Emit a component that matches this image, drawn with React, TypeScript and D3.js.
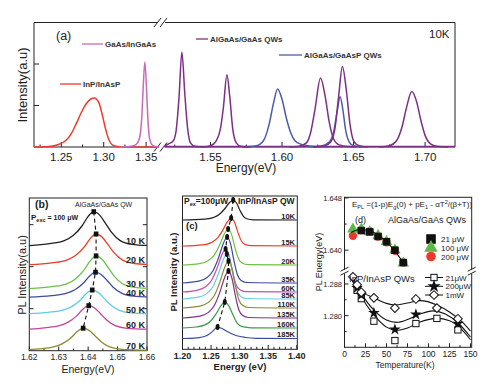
import React from "react";
import * as d3 from "d3";

type Pt = [number, number];

const FONT = "Liberation Sans, Arial, Helvetica, sans-serif";

// ---------- (a) PL spectra at 10K, energy (eV) vs intensity (a.u.)
const inpSpec: Pt[] = [[1.2178, 0], [1.235, 0.01], [1.245, 0.05], [1.255, 0.15], [1.262, 0.33], [1.268, 0.58], [1.274, 0.85], [1.28, 1.06], [1.2888, 1.18], [1.294, 1.08], [1.298, 0.8], [1.302, 0.45], [1.306, 0.18], [1.31, 0.05], [1.316, 0.01], [1.325, 0], [1.3652, 0]];
const gaasSpec: Pt[] = [[1.318, 0], [1.332, 0.02], [1.338, 0.06], [1.342, 0.2], [1.345, 0.75], [1.3465, 1.4], [1.3485, 2.05], [1.3505, 1.4], [1.352, 0.7], [1.354, 0.22], [1.357, 0.05], [1.361, 0.01], [1.3652, 0]];
const algaasP1: Pt[] = [[1.5175, 0.02], [1.521, 0.08], [1.524, 0.15], [1.526, 0.4], [1.528, 1.2], [1.53, 2.29], [1.532, 1.3], [1.534, 0.45], [1.536, 0.1], [1.539, 0.02], [1.545, 0]];
const algaasP2: Pt[] = [[1.545, 0], [1.55, 0.03], [1.554, 0.15], [1.557, 0.45], [1.559, 0.95], [1.5615, 1.74], [1.5635, 1.2], [1.5655, 0.45], [1.568, 0.1], [1.571, 0.02], [1.578, 0]];
const algaasP3: Pt[] = [[1.605, 0], [1.612, 0.02], [1.617, 0.1], [1.62, 0.35], [1.623, 0.9], [1.6269, 1.66], [1.63, 1.25], [1.633, 0.6], [1.636, 0.2], [1.64, 0.05], [1.646, 0.01], [1.652, 0]];
const algaasP4: Pt[] = [[1.622, 0], [1.63, 0.03], [1.634, 0.12], [1.637, 0.45], [1.6395, 1.2], [1.6422, 1.94], [1.645, 1.35], [1.6475, 0.55], [1.65, 0.15], [1.654, 0.03], [1.66, 0]];
const algaasP5: Pt[] = [[1.668, 0], [1.675, 0.03], [1.68, 0.15], [1.684, 0.5], [1.687, 0.95], [1.6907, 1.34], [1.694, 1.1], [1.697, 0.65], [1.7, 0.28], [1.704, 0.07], [1.709, 0.01], [1.716, 0]];
const gaaspB1: Pt[] = [[1.572, 0], [1.582, 0.03], [1.587, 0.15], [1.591, 0.55], [1.594, 1.05], [1.5969, 1.4], [1.6, 1.15], [1.603, 0.7], [1.606, 0.35], [1.609, 0.15], [1.613, 0.07], [1.618, 0.03], [1.625, 0.01], [1.632, 0]];
const gaaspB2: Pt[] = [[1.62, 0], [1.628, 0.03], [1.633, 0.12], [1.636, 0.35], [1.6385, 0.85], [1.6406, 1.21], [1.6425, 0.9], [1.6445, 0.4], [1.647, 0.12], [1.65, 0.03], [1.656, 0]];
const aTicksLeft = [1.25, 1.3, 1.35];
const aTicksRight = [1.55, 1.6, 1.65, 1.7];
const aMinorLeft = [1.225, 1.275, 1.325];
const aMinorRight = [1.525, 1.575, 1.625, 1.675];
const aYTicks = [1, 2];

// ---------- (b) AlGaAs/GaAs QW vs temperature (stacked)
const bLabels = ["10 K", "20 K", "30 K", "40 K", "50 K", "60 K", "70 K"];
const bSpectra: Pt[][] = [
  [[1.62, 105], [1.6269, 107.0], [1.6319, 110.1], [1.6349, 115.2], [1.6379, 124.7], [1.6399, 133.9], [1.6419, 139], [1.6439, 135.6], [1.6459, 127.4], [1.6479, 118.6], [1.6509, 110.1], [1.6549, 106.4], [1.66, 105.3]],
  [[1.62, 86], [1.6277, 87.8], [1.6327, 90.6], [1.6357, 95.2], [1.6387, 103.8], [1.6407, 112.1], [1.6427, 116.7], [1.6447, 113.6], [1.6467, 106.3], [1.6487, 98.3], [1.6517, 90.6], [1.6557, 87.2], [1.66, 86.3]],
  [[1.62, 62], [1.6277, 64.0], [1.6327, 66.9], [1.6357, 71.8], [1.6387, 81.0], [1.6407, 89.8], [1.6427, 94.7], [1.6447, 91.4], [1.6467, 83.6], [1.6487, 75.1], [1.6517, 66.9], [1.6557, 63.3], [1.66, 62.3]],
  [[1.62, 53.5], [1.6275, 55.0], [1.6325, 57.3], [1.6355, 61.0], [1.6385, 68.0], [1.6405, 74.8], [1.6425, 78.5], [1.6445, 76.0], [1.6465, 70.0], [1.6485, 63.5], [1.6515, 57.3], [1.6555, 54.5], [1.66, 53.8]],
  [[1.62, 37], [1.6264, 38.4], [1.6314, 40.6], [1.6344, 44.1], [1.6374, 50.7], [1.6394, 57.1], [1.6414, 60.7], [1.6434, 58.3], [1.6454, 52.6], [1.6474, 46.5], [1.6504, 40.6], [1.6544, 37.9], [1.66, 37.2]],
  [[1.62, 21.5], [1.6252, 22.9], [1.6302, 25.0], [1.6332, 28.6], [1.6362, 35.1], [1.6382, 41.5], [1.6402, 45], [1.6422, 42.7], [1.6442, 37.0], [1.6462, 30.9], [1.6492, 25.0], [1.6532, 22.4], [1.66, 21.6]],
  [[1.62, 1.0], [1.6233, 1.8], [1.6283, 3.8], [1.6313, 7.1], [1.6343, 13.3], [1.6363, 19.2], [1.6383, 22.5], [1.6403, 20.3], [1.6423, 15.0], [1.6443, 9.3], [1.6473, 3.8], [1.6513, 1.4], [1.66, 0.6]],
];
const bPeaks: Pt[] = [[1.6419, 139], [1.6427, 116.7], [1.6427, 94.7], [1.6425, 78.5], [1.6414, 60.7], [1.6402, 45], [1.6383, 22.5]];
const bColors = ["#231f20", "#ee3b24", "#6cc04a", "#3c4ba0", "#5fcbe8", "#c2449b", "#8d8a36"];
const bTicks = [1.62, 1.63, 1.64, 1.65, 1.66];
const bMinor = [1.625, 1.635, 1.645, 1.655];
const bYTicks = [42, 84, 126];

// ---------- (c) InP/InAsP QW vs temperature (stacked)
const cLabels = ["10K", "15K", "20K", "35K", "60K", "85K", "110K", "135K", "160K", "185K"];
const cSpectra: Pt[][] = [
  [[1.2, 129.3], [1.2386, 130.1], [1.2536, 131.7], [1.2636, 134.5], [1.2736, 140.3], [1.2816, 146.3], [1.2886, 149.3], [1.2946, 146.3], [1.3006, 138.9], [1.3066, 132.9], [1.3136, 130.3], [1.3236, 129.5], [1.4, 129.3]],
  [[1.2, 103.3], [1.2351, 104.4], [1.2501, 106.7], [1.2601, 110.6], [1.2701, 118.7], [1.2781, 127.1], [1.2851, 131.3], [1.2911, 127.1], [1.2971, 116.7], [1.3031, 108.3], [1.3101, 104.7], [1.3201, 103.6], [1.4, 103.3]],
  [[1.2, 84.3], [1.2298, 85.7], [1.2448, 88.6], [1.2548, 93.7], [1.2648, 104.1], [1.2728, 114.9], [1.2798, 120.3], [1.2858, 114.9], [1.2918, 101.6], [1.2978, 90.8], [1.3048, 86.1], [1.3148, 84.7], [1.4, 84.3]],
  [[1.2, 66.3], [1.2281, 68.1], [1.2431, 71.8], [1.2531, 78.3], [1.2631, 91.6], [1.2711, 105.4], [1.2781, 112.3], [1.2841, 105.4], [1.2901, 88.4], [1.2961, 74.6], [1.3031, 68.6], [1.3131, 66.8], [1.4, 66.3]],
  [[1.2, 57.3], [1.2254, 59.0], [1.2404, 62.5], [1.2504, 68.5], [1.2604, 81.0], [1.2684, 93.9], [1.2754, 100.3], [1.2814, 93.9], [1.2874, 77.9], [1.2934, 65.0], [1.3004, 59.5], [1.3104, 57.7], [1.4, 57.3]],
  [[1.2, 50.3], [1.2275, 52.1], [1.2425, 55.7], [1.2525, 62.0], [1.2625, 75.1], [1.2705, 88.6], [1.2775, 95.3], [1.2835, 88.6], [1.2895, 71.9], [1.2955, 58.4], [1.3025, 52.6], [1.3125, 50.8], [1.4, 50.3]],
  [[1.2, 41.3], [1.2304, 43.2], [1.2454, 46.9], [1.2554, 53.5], [1.2654, 67.2], [1.2734, 81.3], [1.2804, 88.3], [1.2864, 81.3], [1.2924, 63.9], [1.2984, 49.8], [1.3054, 43.7], [1.3154, 41.8], [1.4, 41.3]],
  [[1.2, 31.3], [1.2304, 33.2], [1.2454, 36.9], [1.2554, 43.5], [1.2654, 57.2], [1.2734, 71.3], [1.2804, 78.3], [1.2864, 71.3], [1.2924, 53.9], [1.2984, 39.8], [1.3054, 33.7], [1.3154, 31.8], [1.4, 31.3]],
  [[1.2, 21.3], [1.224, 22.3], [1.239, 24.4], [1.249, 28.1], [1.259, 35.6], [1.267, 43.4], [1.274, 47.3], [1.281, 43.4], [1.288, 34.8], [1.296, 26.0], [1.305, 22.6], [1.32, 21.5], [1.4, 21.3]],
  [[1.2, 10.8], [1.22, 11.2], [1.235, 12.3], [1.245, 14.5], [1.253, 18.2], [1.258, 21.0], [1.2614, 22.3], [1.267, 21.3], [1.275, 18.8], [1.285, 15.8], [1.295, 13.5], [1.31, 11.8], [1.33, 11.0], [1.4, 10.8]],
];
const cPeaks: Pt[] = [[1.2886, 149.3], [1.2851, 131.3], [1.2798, 120.3], [1.2781, 112.3], [1.2754, 100.3], [1.2775, 95.3], [1.2804, 88.3], [1.2804, 78.3], [1.274, 47.3], [1.2614, 22.3]];
const cColors = ["#231f20", "#ee3b24", "#72bf44", "#3c4ba0", "#c54fa9", "#6ccbe8", "#8d8a36", "#86308d", "#3d9a45", "#3c4ba0"];
const cTicks = [1.2, 1.25, 1.3, 1.35, 1.4];
const cMinor = [1.21, 1.22, 1.23, 1.24, 1.26, 1.27, 1.28, 1.29, 1.31, 1.32, 1.33, 1.34, 1.36, 1.37, 1.38, 1.39];

// ---------- (d) peak energy vs temperature
const upT21 = [20, 30, 40, 50, 60, 70];
const upE21 = [1.643, 1.6428, 1.6421, 1.6413, 1.64, 1.6381];
const upT100 = [10, 20, 30, 40, 50, 60, 70];
const upE100 = [1.6432, 1.6432, 1.6428, 1.6422, 1.6413, 1.64, 1.638];
const upT200 = [10, 20, 30, 40, 50, 60, 70];
const upE200 = [1.6422, 1.6431, 1.6429, 1.6421, 1.6412, 1.6399, 1.6381];
const upFitT = [8, 15, 25, 35, 45, 55, 65, 72];
const upFitE = [1.6427, 1.6431, 1.6431, 1.6427, 1.6418, 1.6406, 1.639, 1.6376];

const loT21 = [15, 20, 35, 60, 85, 110, 135];
const loE21 = [1.2864, 1.2843, 1.2786, 1.2737, 1.278, 1.2793, 1.2764];
const loT200 = [15, 20, 35, 60, 85, 135];
const loE200 = [1.287, 1.2852, 1.2807, 1.2765, 1.2803, 1.278];
const loT1m = [10, 15, 20, 35, 60, 85, 110, 135];
const loE1m = [1.2898, 1.2878, 1.2859, 1.2845, 1.2819, 1.2842, 1.2819, 1.2792];
const fitT1m = [8, 20, 35, 50, 60, 75, 90, 110, 125, 140, 150];
const fitE1m = [1.2903, 1.2862, 1.2845, 1.2831, 1.2827, 1.2832, 1.2838, 1.2827, 1.2809, 1.2784, 1.2761];
const fitT200 = [8, 20, 35, 50, 62, 75, 90, 105, 120, 135, 150];
const fitE200 = [1.2898, 1.2855, 1.2814, 1.2789, 1.2783, 1.279, 1.2804, 1.2812, 1.2804, 1.2782, 1.2746];
const fitT21 = [8, 20, 35, 50, 62, 75, 90, 110, 125, 140, 150];
const fitE21 = [1.2893, 1.2847, 1.2802, 1.2771, 1.2763, 1.2769, 1.2784, 1.2793, 1.2787, 1.2764, 1.2739];
const dXTicks = [0, 25, 50, 75, 100, 125, 150];
const dXMinor = [12.5, 37.5, 62.5, 87.5, 112.5, 137.5];
const dUpTicks = [1.648, 1.64];
const dLoTicks = [1.288, 1.28];
const dUpMinor = [1.644];
const dLoMinor = [1.284, 1.276];

const zip = (a: number[], b: number[]): Pt[] => a.map((v, i) => [v, b[i]]);

function PanelA() {
  const xL = d3.scaleLinear().domain([1.2178, 1.3652]).range([34, 159]);
  const xR = d3.scaleLinear().domain([1.5175, 1.7209]).range([164, 455]);
  const y = d3.scaleLinear().domain([0, 3]).range([147, 22.5]);
  const path = (pts: Pt[], x: d3.ScaleLinear<number, number>) =>
    d3.line<Pt>().x(d => x(d[0])).y(d => y(d[1])).curve(d3.curveMonotoneX)(pts) || "";
  const purple = "#7d2f86";
  const blue = "#4d5bab";
  const y0 = y(0);
  return (
    <g fontFamily={FONT}>
      {/* frame */}
      <line x1={34} x2={34} y1={22.5} y2={147} stroke="#222" />
      <line x1={455} x2={455} y1={22.5} y2={147} stroke="#222" />
      <line x1={34} x2={157} y1={22.5} y2={22.5} stroke="#222" />
      <line x1={165} x2={455} y1={22.5} y2={22.5} stroke="#222" />
      <line x1={34} x2={157} y1={147} y2={147} stroke="#222" />
      <line x1={165} x2={455} y1={147} y2={147} stroke="#222" />
      {[22.5, 147].map(yy => (
        <g key={yy} stroke="#222" strokeWidth={1}>
          <line x1={154} x2={161} y1={yy + 4.5} y2={yy - 4.5} />
          <line x1={160} x2={167} y1={yy + 4.5} y2={yy - 4.5} />
        </g>
      ))}
      {/* ticks */}
      {aTicksLeft.map(t => <line key={t} x1={xL(t)} x2={xL(t)} y1={147} y2={142} stroke="#222" />)}
      {aMinorLeft.map(t => <line key={t} x1={xL(t)} x2={xL(t)} y1={147} y2={144.5} stroke="#222" />)}
      {aTicksRight.map(t => <line key={t} x1={xR(t)} x2={xR(t)} y1={147} y2={142} stroke="#222" />)}
      {aMinorRight.map(t => <line key={t} x1={xR(t)} x2={xR(t)} y1={147} y2={144.5} stroke="#222" />)}
      {aYTicks.map(t => <line key={t} x1={34} x2={39} y1={y(t)} y2={y(t)} stroke="#222" />)}
      {aTicksLeft.map(t => (
        <text key={t} x={xL(t)} y={161} fontSize={11.5} textAnchor="middle" fill="#222">{t.toFixed(2)}</text>
      ))}
      {aTicksRight.map(t => (
        <text key={t} x={xR(t)} y={161} fontSize={11.5} textAnchor="middle" fill="#222">{t.toFixed(2)}</text>
      ))}
      <text x={246} y={172} fontSize={12} textAnchor="middle" fill="#222">Energy(eV)</text>
      <text transform="translate(27,85) rotate(-90)" fontSize={13} textAnchor="middle" fill="#222">Intensity(a.u)</text>
      {/* spectra */}
      <path d={path(inpSpec, xL)} fill="none" stroke="#ee3a2c" strokeWidth={1.5} />
      <path d={path(gaasSpec, xL)} fill="none" stroke="#c86bbd" strokeWidth={1.5} />
      <line x1={164} x2={455} y1={y0 - 0.5} y2={y0 - 0.5} stroke={purple} strokeWidth={1.5} />
      {[gaaspB1, gaaspB2].map((s, i) => (
        <path key={i} d={path(s, xR)} fill="none" stroke={blue} strokeWidth={1.5} />
      ))}
      {[algaasP1, algaasP2, algaasP3, algaasP4, algaasP5].map((s, i) => (
        <path key={i} d={path(s, xR)} fill="none" stroke={purple} strokeWidth={1.5} />
      ))}
      {/* labels / legend */}
      <text x={56} y={40} fontSize={12.5} fill="#222">(a)</text>
      <text x={429} y={38} fontSize={11.5} fill="#222">10K</text>
      <g fontSize={8} fontWeight="bold" fill="#333">
        <line x1={60} x2={81} y1={84} y2={84} stroke="#ee3a2c" strokeWidth={1.3} />
        <text x={83} y={87}>InP/InAsP</text>
        <line x1={82} x2={103} y1={44} y2={44} stroke="#c86bbd" strokeWidth={1.3} />
        <text x={105} y={47}>GaAs/InGaAs</text>
        <line x1={196} x2={208} y1={39} y2={39} stroke={purple} strokeWidth={1.3} />
        <text x={210} y={42}>AlGaAs/GaAs QWs</text>
        <line x1={279} x2={302} y1={55} y2={55} stroke={blue} strokeWidth={1.3} />
        <text x={304} y={58}>AlGaAs/GaAsP QWs</text>
      </g>
    </g>
  );
}

function PanelB() {
  const x = d3.scaleLinear().domain([1.62, 1.66]).range([29.3, 147]);
  const y = d3.scaleLinear().domain([0, 152.7]).range([350.7, 198]);
  const line = d3.line<Pt>().x(d => x(d[0])).y(d => y(d[1])).curve(d3.curveMonotoneX);
  const straight = d3.line<Pt>().x(d => x(d[0])).y(d => y(d[1]));
  return (
    <g fontFamily={FONT}>
      <rect x={29.3} y={198} width={117.7} height={152.7} fill="none" stroke="#222" />
      {bTicks.map(t => <line key={t} x1={x(t)} x2={x(t)} y1={350.7} y2={346.5} stroke="#222" />)}
      {bMinor.map(t => <line key={t} x1={x(t)} x2={x(t)} y1={350.7} y2={348.5} stroke="#222" />)}
      {bYTicks.map(t => <line key={t} x1={29.3} x2={33.5} y1={y(t)} y2={y(t)} stroke="#222" />)}
      {bYTicks.map(t => <line key={t} x1={147} x2={142.8} y1={y(t)} y2={y(t)} stroke="#222" />)}
      {bSpectra.map((s, i) => (
        <path key={i} d={line(s) || ""} fill="none" stroke={bColors[i]} strokeWidth={1.3} />
      ))}
      <path d={straight(bPeaks) || ""} fill="none" stroke="#111" strokeWidth={1.1} strokeDasharray="4,3" />
      {bPeaks.map((p, i) => (
        <rect key={i} x={x(p[0]) - 2.3} y={y(p[1]) - 2.5} width={4.6} height={5} fill="#111" />
      ))}
      {bSpectra.map((s, i) => (
        <text key={i} x={145} y={y(s[s.length - 1][1]) - 1} fontSize={9} fontWeight="bold" textAnchor="end" fill="#222">{bLabels[i]}</text>
      ))}
      {bTicks.map(t => (
        <text key={t} x={x(t)} y={360} fontSize={8.5} textAnchor="middle" fill="#222">{t.toFixed(2)}</text>
      ))}
      <text x={88} y={373} fontSize={10.5} textAnchor="middle" fill="#222">Energy(eV)</text>
      <text transform="translate(26,275) rotate(-90)" fontSize={11} textAnchor="middle" fill="#222">PL Intensity(a.u)</text>
      <text x={35} y={208} fontSize={10.5} fontWeight="bold" fill="#222">(b)</text>
      <text x={75} y={206.5} fontSize={7} fill="#222">AlGaAs/GaAs QW</text>
      <text x={31} y={219.5} fontSize={8} fontWeight="bold" fill="#222">
        P<tspan fontSize={5.5} dy={2}>exc</tspan><tspan dy={-2} fontSize={7}> = 100 μW</tspan>
      </text>
    </g>
  );
}

function PanelC() {
  const x = d3.scaleLinear().domain([1.2, 1.4]).range([182.5, 296.8]);
  const y = d3.scaleLinear().domain([0, 153.3]).range([349.3, 196]);
  const line = d3.line<Pt>().x(d => x(d[0])).y(d => y(d[1])).curve(d3.curveMonotoneX);
  const straight = d3.line<Pt>().x(d => x(d[0])).y(d => y(d[1]));
  return (
    <g fontFamily={FONT}>
      <rect x={182.5} y={196} width={114.8} height={153.3} fill="none" stroke="#222" />
      {cTicks.map(t => <line key={t} x1={x(t)} x2={x(t)} y1={349.3} y2={345} stroke="#222" />)}
      {cMinor.map(t => <line key={t} x1={x(t)} x2={x(t)} y1={349.3} y2={346.8} stroke="#222" />)}
      {cSpectra.map((s, i) => (
        <path key={i} d={line(s) || ""} fill="none" stroke={cColors[i]} strokeWidth={1.2} />
      ))}
      <path d={straight(cPeaks) || ""} fill="none" stroke="#111" strokeWidth={1.1} strokeDasharray="4,3" />
      {cPeaks.map((p, i) => (
        <ellipse key={i} cx={x(p[0])} cy={y(p[1])} rx={2} ry={3} fill="#111" />
      ))}
      {cSpectra.map((s, i) => (
        <text key={i} x={295} y={y(s[s.length - 1][1]) - 1.5} fontSize={7.5} fontWeight="bold" textAnchor="end" fill="#222">{cLabels[i]}</text>
      ))}
      {cTicks.map(t => (
        <text key={t} x={x(t)} y={358.5} fontSize={9} fontWeight="bold" textAnchor="middle" fill="#222">{t.toFixed(2)}</text>
      ))}
      <text x={240} y={370} fontSize={9.5} fontWeight="bold" textAnchor="middle" fill="#222">Energy (eV)</text>
      <text transform="translate(176.5,272) rotate(-90)" fontSize={9.5} fontWeight="bold" textAnchor="middle" fill="#222">PL Intensity (a.u.)</text>
      <text x={184} y={203.5} fontSize={8.5} fontWeight="bold" fill="#222">
        P<tspan fontSize={5.5} dy={2}>ex</tspan><tspan dy={-2}>=100μW</tspan>
      </text>
      <text x={238} y={203.5} fontSize={8.5} fontWeight="bold" fill="#222">InP/InAsP QW</text>
      <text x={186} y={229} fontSize={9.5} fontWeight="bold" fill="#222">(c)</text>
    </g>
  );
}

function PanelD() {
  const L = 344.5, R = 471.7, T = 197.3, B = 347.3, BR = 271.7;
  const x = d3.scaleLinear().domain([0, 150]).range([L, 470.5]);
  const yU = d3.scaleLinear().domain([1.6367, 1.6481]).range([BR, T]);
  const yL = d3.scaleLinear().domain([1.272, 1.2911]).range([B, BR]);
  const fitU = d3.line<Pt>().x(d => x(d[0])).y(d => yU(d[1])).curve(d3.curveMonotoneX);
  const fitL = d3.line<Pt>().x(d => x(d[0])).y(d => yL(d[1])).curve(d3.curveMonotoneX);
  const star = d3.symbol().type(d3.symbolStar).size(42)() || "";
  const starLeg = d3.symbol().type(d3.symbolStar).size(55)() || "";
  const tri = d3.symbol().type(d3.symbolTriangle).size(58)() || "";
  const triLeg = d3.symbol().type(d3.symbolTriangle).size(80)() || "";
  const sq = (cx: number, cy: number, s: number, fill: string, k: string | number) => (
    <rect key={k} x={cx - s / 2} y={cy - s / 2} width={s} height={s} fill={fill} stroke="#111" strokeWidth={1} />
  );
  const dia = (cx: number, cy: number, k: string | number) => (
    <rect key={k} x={-3.1} y={-3.1} width={6.2} height={6.2} fill="#fff" stroke="#111" strokeWidth={1}
      transform={`translate(${cx},${cy}) rotate(45)`} />
  );
  return (
    <g fontFamily={FONT}>
      <defs>
        <clipPath id="dclip"><rect x={L} y={BR + 2} width={R - L} height={B - BR - 2} /></clipPath>
      </defs>
      <rect x={L} y={T} width={R - L} height={B - T} fill="none" stroke="#222" />
      {/* axis breaks */}
      {[L, R].map(xx => (
        <g key={xx}>
          <rect x={xx - 2} y={BR - 2} width={4} height={4} fill="#fff" />
          <line x1={xx - 4} x2={xx + 4} y1={BR - 0.5} y2={BR - 4.5} stroke="#222" />
          <line x1={xx - 4} x2={xx + 4} y1={BR + 3.5} y2={BR - 0.5} stroke="#222" />
        </g>
      ))}
      {dXTicks.map(t => <line key={t} x1={x(t)} x2={x(t)} y1={B} y2={B - 4} stroke="#222" />)}
      {dXMinor.map(t => <line key={t} x1={x(t)} x2={x(t)} y1={B} y2={B - 2.2} stroke="#222" />)}
      {dUpTicks.map(t => <line key={t} x1={L} x2={L + 4} y1={yU(t)} y2={yU(t)} stroke="#222" />)}
      {dUpMinor.map(t => <line key={t} x1={L} x2={L + 2.2} y1={yU(t)} y2={yU(t)} stroke="#222" />)}
      {dLoTicks.map(t => <line key={t} x1={L} x2={L + 4} y1={yL(t)} y2={yL(t)} stroke="#222" />)}
      {dLoMinor.map(t => <line key={t} x1={L} x2={L + 2.2} y1={yL(t)} y2={yL(t)} stroke="#222" />)}
      {dXTicks.map(t => (
        <text key={t} x={x(t)} y={356.5} fontSize={8.5} textAnchor="middle" fill="#222">{t}</text>
      ))}
      {dUpTicks.map(t => (
        <text key={t} x={342} y={yU(t) + 3} fontSize={7.5} textAnchor="end" fill="#222">{t.toFixed(3)}</text>
      ))}
      {dLoTicks.map(t => (
        <text key={t} x={342} y={yL(t) + 3} fontSize={7.5} textAnchor="end" fill="#222">{t.toFixed(3)}</text>
      ))}
      <text x={405} y={368} fontSize={8.5} textAnchor="middle" fill="#222">Temperature(K)</text>
      <text transform="translate(322,262) rotate(-90)" fontSize={9} textAnchor="middle" fill="#222">PL Energy(eV)</text>

      {/* upper: AlGaAs/GaAs */}
      {zip(upT200, upE200).map((p, i) => (
        <circle key={i} cx={x(p[0])} cy={yU(p[1])} r={4.2} fill="#ea3a2d" />
      ))}
      {zip(upT100, upE100).map((p, i) => (
        <path key={i} d={tri} transform={`translate(${x(p[0])},${yU(p[1])})`} fill="#5bb947" />
      ))}
      {zip(upT21, upE21).map((p, i) => sq(x(p[0]), yU(p[1]), 6.5, "#111", i))}
      <path d={fitU(zip(upFitT, upFitE)) || ""} fill="none" stroke="#111" strokeWidth={1.1} />

      {/* lower: InP/InAsP */}
      <g clipPath="url(#dclip)">
        <path d={fitL(zip(fitT1m, fitE1m)) || ""} fill="none" stroke="#111" strokeWidth={1.1} />
        <path d={fitL(zip(fitT200, fitE200)) || ""} fill="none" stroke="#111" strokeWidth={1.1} />
        <path d={fitL(zip(fitT21, fitE21)) || ""} fill="none" stroke="#111" strokeWidth={1.1} />
      </g>
      {zip(loT21, loE21).map((p, i) => sq(x(p[0]), yL(p[1]), 6.3, "#fff", i))}
      {zip(loT200, loE200).map((p, i) => (
        <path key={i} d={star} transform={`translate(${x(p[0])},${yL(p[1])})`} fill="#111" />
      ))}
      {zip(loT1m, loE1m).map((p, i) => dia(x(p[0]), yL(p[1]), i))}

      {/* texts & legends */}
      <text x={352} y={207} fontSize={8} fill="#222">
        E<tspan fontSize={5.5} dy={2}>PL</tspan><tspan dy={-2}> =(1-p)E</tspan><tspan fontSize={5.5} dy={2}>g</tspan><tspan dy={-2}>(0) + pE</tspan><tspan fontSize={5.5} dy={2}>1</tspan><tspan dy={-2}> - αT</tspan><tspan fontSize={5.5} dy={-3}>2</tspan><tspan dy={3}>/(β+T))</tspan>
      </text>
      <text x={355} y={223} fontSize={9} fill="#222">(d)</text>
      <text x={388} y={223} fontSize={9} fill="#222">AlGaAs/GaAs QWs</text>
      {sq(431, 239, 8.5, "#111", "lg1")}
      <path d={triLeg} transform="translate(431,247.8)" fill="#5bb947" />
      <circle cx={431} cy={256.5} r={4.8} fill="#ea3a2d" />
      <g fontSize={8} fill="#222">
        <text x={441} y={242}>21 μW</text>
        <text x={441} y={250.5}>100 μW</text>
        <text x={441} y={259.5}>200 μW</text>
      </g>
      <text x={349} y={282} fontSize={9.5} fill="#222">InP/InAsP QWs</text>
      <g stroke="#111" strokeWidth={1}>
        <line x1={425} x2={443} y1={277.5} y2={277.5} />
        <line x1={425} x2={443} y1={286.3} y2={286.3} />
        <line x1={425} x2={443} y1={295} y2={295} />
      </g>
      {sq(434, 277.5, 6.3, "#fff", "lg4")}
      <path d={starLeg} transform="translate(434,286.3)" fill="#111" />
      {dia(434, 295, "lg6")}
      <g fontSize={8} fill="#222">
        <text x={445.5} y={280.5}>21μW</text>
        <text x={445.5} y={289.3}>200μW</text>
        <text x={445.5} y={298}>1mW</text>
      </g>
    </g>
  );
}

export default function App() {
  return (
    <svg width={484} height={387} viewBox="0 0 484 387"
      style={{ position: "absolute", left: 0, top: 0, background: "#fff" }}>
      <rect width={484} height={387} fill="#fff" />
      <PanelA />
      <PanelB />
      <PanelC />
      <PanelD />
    </svg>
  );
}
